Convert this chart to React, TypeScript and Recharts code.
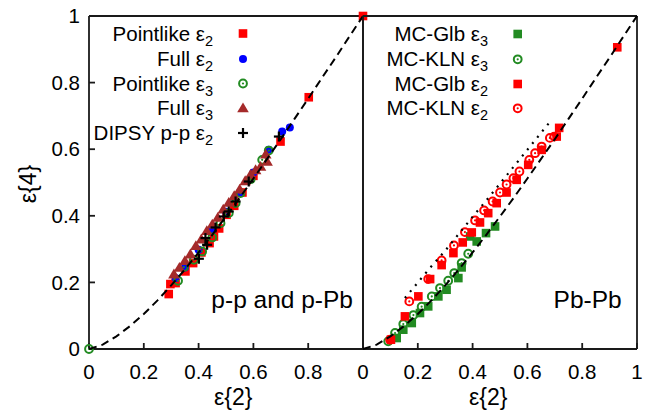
import React from "react";
import { ScatterChart, Scatter, XAxis, YAxis } from "recharts";

const FONT = "'Liberation Sans', Arial, Helvetica, sans-serif";
const RED = "#ff0000";
const BLUE = "#0000ff";
const GREEN = "#228b22";
const BROWN = "#a52a2a";
const AXIS = "#1a1a1a";

// tick labels
const yTicks = [0, 0.2, 0.4, 0.6, 0.8, 1];
const leftXTicks = [0, 0.2, 0.4, 0.6, 0.8];
const rightXTicks = [0, 0.2, 0.4, 0.6, 0.8, 1];
const innerTicks = [0.2, 0.4, 0.6, 0.8];

// left panel: p-p and p-Pb
const pointlikeE2X = [0.291, 0.297, 0.316, 0.352, 0.38, 0.41, 0.44, 0.456, 0.475, 0.502, 0.53, 0.56, 0.6, 0.699, 0.802, 1.0];
const pointlikeE2Y = [0.165, 0.195, 0.198, 0.233, 0.258, 0.29, 0.318, 0.338, 0.362, 0.403, 0.43, 0.47, 0.52, 0.623, 0.756, 1.0];

const fullE2X = [0.316, 0.35, 0.4, 0.449, 0.5, 0.55, 0.6, 0.656, 0.705, 0.733];
const fullE2Y = [0.213, 0.245, 0.298, 0.36, 0.412, 0.47, 0.53, 0.598, 0.653, 0.665];

const pointlikeE3X = [0, 0.325, 0.346, 0.383, 0.413, 0.45, 0.48, 0.51, 0.535, 0.553, 0.59, 0.632, 0.656];
const pointlikeE3Y = [0, 0.205, 0.246, 0.268, 0.293, 0.335, 0.378, 0.408, 0.438, 0.468, 0.51, 0.568, 0.596];

const fullE3X = [0.31, 0.33, 0.35, 0.37, 0.39, 0.41, 0.43, 0.45, 0.47, 0.49, 0.51, 0.53, 0.55, 0.57, 0.59, 0.608, 0.626, 0.645, 0.65];
const fullE3Y = [0.225, 0.245, 0.265, 0.285, 0.31, 0.33, 0.355, 0.375, 0.395, 0.42, 0.44, 0.46, 0.48, 0.505, 0.525, 0.538, 0.548, 0.585, 0.563];

const dipsyX = [0.401, 0.425, 0.431, 0.462, 0.492, 0.51, 0.535, 0.583, 0.693];
const dipsyY = [0.271, 0.333, 0.313, 0.365, 0.398, 0.413, 0.443, 0.503, 0.638];

// right panel: Pb-Pb
const glbE3X = [0.123, 0.147, 0.178, 0.208, 0.238, 0.275, 0.305, 0.348, 0.36, 0.391, 0.415, 0.449, 0.482];
const glbE3Y = [0.033, 0.058, 0.078, 0.108, 0.128, 0.158, 0.178, 0.213, 0.245, 0.338, 0.323, 0.348, 0.368];

const klnE3X = [0.092, 0.117, 0.147, 0.184, 0.214, 0.251, 0.281, 0.311, 0.333, 0.36, 0.384];
const klnE3Y = [0.023, 0.048, 0.075, 0.102, 0.127, 0.158, 0.183, 0.205, 0.228, 0.258, 0.286];

const glbE2X = [0.102, 0.153, 0.202, 0.245, 0.287, 0.33, 0.364, 0.397, 0.427, 0.457, 0.488, 0.524, 0.561, 0.603, 0.652, 0.707, 0.716, 0.928];
const glbE2Y = [0.028, 0.098, 0.158, 0.21, 0.252, 0.288, 0.32, 0.35, 0.38, 0.408, 0.438, 0.47, 0.508, 0.553, 0.598, 0.638, 0.664, 0.906];

const klnE2X = [0.099, 0.169, 0.238, 0.287, 0.332, 0.372, 0.409, 0.442, 0.473, 0.5, 0.524, 0.549, 0.571, 0.607, 0.628, 0.652, 0.682, 0.698];
const klnE2Y = [0.028, 0.143, 0.21, 0.266, 0.311, 0.351, 0.386, 0.416, 0.443, 0.47, 0.494, 0.513, 0.533, 0.568, 0.588, 0.608, 0.634, 0.638];

// curves
const dashedX = [0, 0.05, 0.1, 0.15, 0.2, 0.25, 0.3, 0.35, 0.4, 0.45, 0.5, 0.55, 0.6, 0.65, 0.7, 0.75, 0.8, 0.85, 0.9, 0.95, 1];
const dashedY = [0, 0.013, 0.038, 0.069, 0.105, 0.146, 0.191, 0.239, 0.29, 0.343, 0.398, 0.454, 0.512, 0.571, 0.63, 0.691, 0.752, 0.814, 0.875, 0.938, 1];
const dottedX = [0.153, 0.242, 0.3, 0.352, 0.403, 0.457, 0.69];
const dottedY = [0.153, 0.241, 0.295, 0.348, 0.4, 0.453, 0.69];

const zip = (xs: number[], ys: number[]) => xs.map((x, i) => ({ x, y: ys[i] }));

const square = (color: string) => (p: any) => (
  <rect x={p.cx - 4.3} y={p.cy - 4.3} width={8.6} height={8.6} fill={color} />
);
const dot = (color: string) => (p: any) => <circle cx={p.cx} cy={p.cy} r={4} fill={color} />;
const ring = (color: string) => (p: any) => (
  <g>
    <circle cx={p.cx} cy={p.cy} r={3.9} fill="none" stroke={color} strokeWidth={2} />
    <circle cx={p.cx} cy={p.cy} r={1.1} fill={color} />
  </g>
);
const tri = (color: string) => (p: any) => (
  <polygon points={`${p.cx},${p.cy - 5.5} ${p.cx - 5.8},${p.cy + 4.3} ${p.cx + 5.8},${p.cy + 4.3}`} fill={color} />
);
const plus = (color: string) => (p: any) => (
  <g stroke={color} strokeWidth={2.2}>
    <line x1={p.cx - 5} y1={p.cy} x2={p.cx + 5} y2={p.cy} />
    <line x1={p.cx} y1={p.cy - 5} x2={p.cx} y2={p.cy + 5} />
  </g>
);
const noShape = () => <g />;

const tickStyle = { fontSize: 20.5, fill: "#000", fontFamily: FONT };
const lineStyle = { stroke: AXIS, strokeWidth: 1.8 };

// axes take 1px each (a 0px axis is not drawn), margins are reduced by that
function frame(xTicks: number[], showY: boolean) {
  return [
    <XAxis
      key="xb"
      dataKey="x"
      type="number"
      domain={[0, 1]}
      ticks={xTicks}
      interval={0}
      height={1}
      tickSize={-6}
      tickMargin={21}
      axisLine={lineStyle}
      tickLine={lineStyle}
      tick={tickStyle}
    />,
    <XAxis
      key="xt"
      xAxisId="t"
      orientation="top"
      type="number"
      domain={[0, 1]}
      allowDataOverflow
      ticks={innerTicks}
      interval={0}
      height={1}
      tickSize={-6}
      axisLine={lineStyle}
      tickLine={lineStyle}
      tick={false}
    />,
    <YAxis
      key="yl"
      dataKey="y"
      type="number"
      domain={[0, 1]}
      ticks={showY ? yTicks : innerTicks}
      interval={0}
      width={1}
      tickSize={-6}
      tickMargin={15}
      axisLine={lineStyle}
      tickLine={lineStyle}
      tick={showY ? tickStyle : false}
    />,
    <YAxis
      key="yr"
      yAxisId="r"
      orientation="right"
      type="number"
      domain={[0, 1]}
      allowDataOverflow
      ticks={innerTicks}
      interval={0}
      width={1}
      tickSize={-6}
      axisLine={lineStyle}
      tickLine={lineStyle}
      tick={false}
    />,
  ];
}

const sub = (t: string) => (
  <tspan fontSize={14.5} dy={5}>
    {t}
  </tspan>
);

export default function App() {
  const leftLegend = [
    { name: "Pointlike ε", s: "2", shape: square(RED), y: 33.5 },
    { name: "Full ε", s: "2", shape: dot(BLUE), y: 59 },
    { name: "Pointlike ε", s: "3", shape: ring(GREEN), y: 83.5 },
    { name: "Full ε", s: "3", shape: tri(BROWN), y: 108 },
    { name: "DIPSY p-p ε", s: "2", shape: plus("#000"), y: 133 },
  ];
  const rightLegend = [
    { name: "MC-Glb ε", s: "3", shape: square(GREEN), y: 34 },
    { name: "MC-KLN ε", s: "3", shape: ring(GREEN), y: 59.3 },
    { name: "MC-Glb ε", s: "2", shape: square(RED), y: 84 },
    { name: "MC-KLN ε", s: "2", shape: ring(RED), y: 108.3 },
  ];

  return (
    <div style={{ position: "absolute", left: 0, top: 0, width: 654, height: 411, background: "#fff" }}>
      <div style={{ position: "absolute", left: 0, top: 0 }}>
        <ScatterChart width={370} height={411} margin={{ top: 15, right: 6, bottom: 61, left: 88 }}>
          {frame(leftXTicks, true)}
          <Scatter data={zip(pointlikeE2X, pointlikeE2Y)} shape={square(RED)} isAnimationActive={false} />
          <Scatter data={zip(fullE2X, fullE2Y)} shape={dot(BLUE)} isAnimationActive={false} />
          <Scatter data={zip(pointlikeE3X, pointlikeE3Y)} shape={ring(GREEN)} isAnimationActive={false} />
          <Scatter data={zip(fullE3X, fullE3Y)} shape={tri(BROWN)} isAnimationActive={false} />
          <Scatter data={zip(dipsyX, dipsyY)} shape={plus("#000")} isAnimationActive={false} />
          <Scatter
            data={zip(dashedX, dashedY)}
            shape={noShape}
            line={{ stroke: "#000", strokeWidth: 2, strokeDasharray: "8 5" }}
            isAnimationActive={false}
          />
        </ScatterChart>
      </div>
      <div style={{ position: "absolute", left: 300, top: 0 }}>
        <ScatterChart width={354} height={411} margin={{ top: 15, right: 16, bottom: 61, left: 62 }}>
          {frame(rightXTicks, false)}
          <Scatter data={zip(glbE3X, glbE3Y)} shape={square(GREEN)} isAnimationActive={false} />
          <Scatter data={zip(klnE3X, klnE3Y)} shape={ring(GREEN)} isAnimationActive={false} />
          <Scatter data={zip(glbE2X, glbE2Y)} shape={square(RED)} isAnimationActive={false} />
          <Scatter data={zip(klnE2X, klnE2Y)} shape={ring(RED)} isAnimationActive={false} />
          <Scatter
            data={zip(dashedX, dashedY)}
            shape={noShape}
            line={{ stroke: "#000", strokeWidth: 2, strokeDasharray: "8 5" }}
            isAnimationActive={false}
          />
          <Scatter
            data={zip(dottedX, dottedY)}
            shape={noShape}
            line={{ stroke: "#000", strokeWidth: 2.2, strokeDasharray: "2 6" }}
            isAnimationActive={false}
          />
        </ScatterChart>
      </div>
      <svg
        width={654}
        height={411}
        style={{ position: "absolute", left: 0, top: 0, pointerEvents: "none" }}
        fontFamily={FONT}
      >
        {leftLegend.map((l) => (
          <g key={l.name + l.s}>
            <text x={213} y={l.y + 7} textAnchor="end" fontSize={20.5} fill="#000">
              {l.name}
              {sub(l.s)}
            </text>
            {l.shape({ cx: 243, cy: l.y })}
          </g>
        ))}
        {rightLegend.map((l) => (
          <g key={l.name + l.s}>
            <text x={488} y={l.y + 7} textAnchor="end" fontSize={20.5} fill="#000">
              {l.name}
              {sub(l.s)}
            </text>
            {l.shape({ cx: 517.7, cy: l.y })}
          </g>
        ))}
        <text x={353} y={308} textAnchor="end" fontSize={24.5} fill="#000">
          p-p and p-Pb
        </text>
        <text x={621.7} y={308} textAnchor="end" fontSize={24.5} fill="#000">
          Pb-Pb
        </text>
        <text x={233.3} y={405} textAnchor="middle" fontSize={23} fill="#000">
          ε{"{2}"}
        </text>
        <text x={488.3} y={405} textAnchor="middle" fontSize={23} fill="#000">
          ε{"{2}"}
        </text>
        <text x={28} y={184} textAnchor="middle" dominantBaseline="central" fontSize={23} fill="#000" transform="rotate(-90 28 184)">
          ε{"{4}"}
        </text>
      </svg>
    </div>
  );
}
